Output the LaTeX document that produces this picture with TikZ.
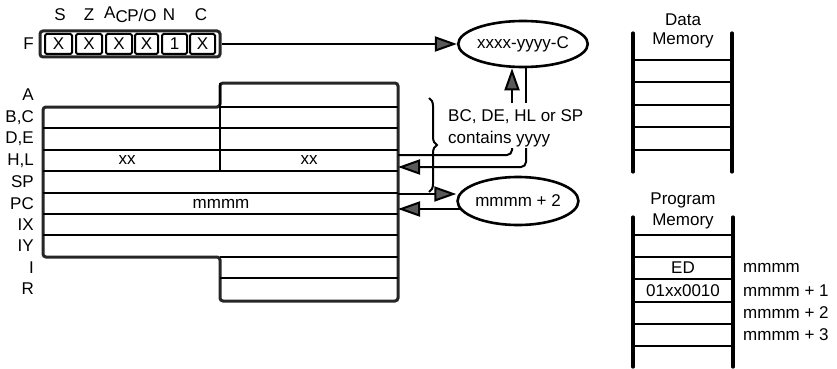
\documentclass[tikz,border=0pt]{standalone}
\usepackage{fontspec}
\setmainfont{Liberation Sans}
\usetikzlibrary{arrows.meta,shapes.geometric,decorations.pathreplacing}
\begin{document}
\begin{tikzpicture}[x=1pt,y=-1pt,
  txt/.style={font=\fontsize{17}{19}\selectfont, inner sep=0pt},
  outline/.style={line width=3pt, draw=black!85, rounded corners=3pt},
  inner/.style={line width=2pt},
  cell/.style={draw, line width=2pt, rounded corners=1.5pt, minimum height=20pt, inner sep=0pt, font=\fontsize{17}{19}\selectfont},
  bubble/.style={ellipse, draw, line width=2.6pt, inner sep=0pt, font=\fontsize{17}{19}\selectfont},
  bigarrow/.style={line width=2pt, -{Triangle[length=22pt,width=15pt,fill=black!65]}},
  conn/.style={line width=2pt},
  memside/.style={line width=3.2pt, line cap=round},
  memline/.style={line width=2pt}]
\useasboundingbox (0,0) rectangle (837,369);

% ---------- flag register ----------
\node[txt] (lS) at (60,15) {S};
\node[txt] (lZ) at (89,15) {Z};
\node[txt] (lA) at (116,15) {A\raisebox{-4pt}{C}};
\node[txt] (lP) at (142,15) {P/O};
\node[txt] (lN) at (169,15) {N};
\node[txt] (lC) at (201,15) {C};
\node[txt, anchor=east] (lF) at (34,44) {F};
\node[draw, line width=3pt, draw=black!85, rounded corners=3pt, minimum width=180pt, minimum height=26pt, inner sep=0pt] (fbox) at (130,44) {};
\foreach \cx/\w/\t [count=\i] in {58.5/27/X, 89/26/X, 119/26/X, 146.5/23/X, 174.5/25/1, 202.5/25/X}
  \node[cell, minimum width=\w pt] (fc\i) at (\cx,44) {\t};

% ---------- register block ----------
\draw[outline] (43,107) -- (220,107) -- (220,83) -- (398,83) -- (398,301) -- (220,301) -- (220,257) -- (43,257) -- cycle;
\draw[inner] (220,107) -- (398,107);
\foreach \y in {128,150,171,193,214,235} \draw[inner] (43,\y) -- (398,\y);
\draw[inner] (220,257) -- (398,257);
\draw[inner] (220,278) -- (398,278);
\draw[inner] (220,83) -- (220,171);

\foreach \y/\t [count=\i] in {95/A, 117.5/{B,C}, 139/{D,E}, 160.5/{H,L}, 182/SP, 203.5/PC, 224.5/IX, 246/IY, 267.5/I, 289/R}
  \node[txt, anchor=east] (r\i) at (34,\y) {\t};
\node[txt] (hx) at (127,160.5) {xx};
\node[txt] (lx) at (309,160.5) {xx};
\node[txt] (pcv) at (221,203.5) {mmmm};

% ---------- address bubbles ----------
\node[bubble, minimum width=122pt, minimum height=46pt] (e1) at (523,44) {xxxx-yyyy-C};
\node[bubble, minimum width=120pt, minimum height=48pt] (e2) at (518,201) {mmmm + 2};

\draw[bigarrow] (fbox.east) -- (e1.west);

\coordinate (u1) at (512,103);
\coordinate (u2) at (526,103);
\draw[bigarrow] (u1) -- (u1 |- e1.south);
\draw[conn] (u2 |- e1.south) -- (u2);

\node[txt, anchor=west] (t1) at (448,117) {BC, DE, HL or SP};
\node[txt, anchor=west] (t2) at (448,139) {contains yyyy};

\draw[line width=2pt, decorate, decoration={brace, amplitude=8pt}] (429,98) -- (429,192);

\coordinate (hlA) at (398,155);
\coordinate (hlB) at (398,167);
\coordinate (y1) at (512,148);
\coordinate (y2) at (526,148);
\draw[conn, rounded corners=5pt] (hlA) -- (512,155) -- (y1);
\draw[bigarrow, rounded corners=5pt] (y2) -- (526,167) -- (hlB);

\coordinate (pcA) at (398,194);
\coordinate (pcB) at (398,209);
\draw[bigarrow] (pcA) -- (pcA -| e2.west);
\draw[bigarrow] (461,209) -- (pcB);

% ---------- data memory ----------
\node[txt] (dm1) at (683,20) {Data};
\node[txt] (dm2) at (683,40) {Memory};
\draw[memside] (633,33) -- (633,172);
\draw[memside] (732,33) -- (732,172);
\foreach \y in {60,82,105,127,150} \draw[memline] (633,\y) -- (732,\y);

% ---------- program memory ----------
\node[txt] (pm1) at (683,200) {Program};
\node[txt] (pm2) at (683,221) {Memory};
\draw[memside] (633,217) -- (633,367);
\draw[memside] (733,217) -- (733,367);
\foreach \y in {235,257,279,302,324,346} \draw[memline] (633,\y) -- (733,\y);
\node[txt] (ed) at (683,268) {ED};
\node[txt] (op) at (683,290.5) {01xx0010};
\node[txt, anchor=west] (a0) at (743,268) {mmmm};
\node[txt, anchor=west] (a1) at (743,290.5) {mmmm + 1};
\node[txt, anchor=west] (a2) at (743,313) {mmmm + 2};
\node[txt, anchor=west] (a3) at (743,335) {mmmm + 3};
\end{tikzpicture}
\end{document}
